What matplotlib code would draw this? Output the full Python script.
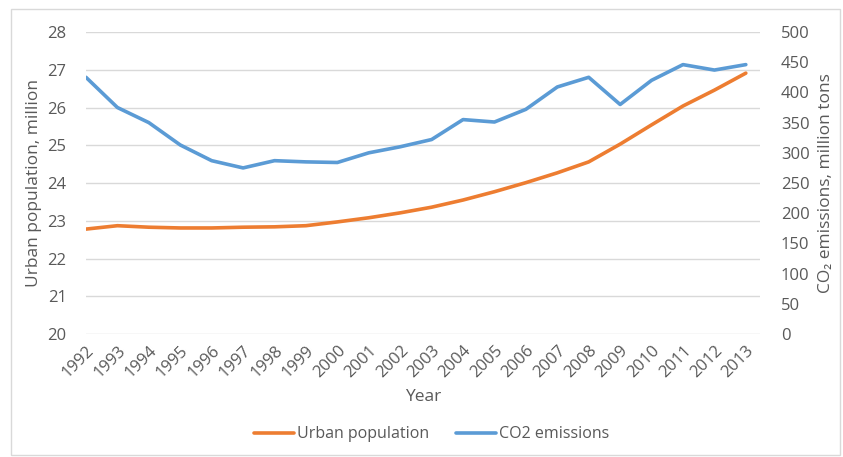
import matplotlib.pyplot as plt
from matplotlib.patches import Rectangle

years = list(range(1992, 2014))
urban_pop = [22.78, 22.87, 22.83, 22.81, 22.81, 22.83, 22.84, 22.87, 22.97, 23.08, 23.21,
             23.36, 23.55, 23.77, 24.01, 24.27, 24.56, 25.03, 25.54, 26.04, 26.46, 26.91]
co2 = [425, 375, 350, 313, 287, 275, 287, 285, 284, 300, 310,
       322, 355, 351, 372, 409, 425, 380, 420, 446, 437, 446]

orange = '#ED7D31'
blue = '#5B9BD5'
txt = '#595959'
grid = '#D9D9D9'

plt.rcParams['font.family'] = ['Open Sans', 'DejaVu Sans']
plt.rcParams['font.size'] = 12

fig = plt.figure(figsize=(8.43, 4.57), dpi=100)
ax = fig.add_axes([0.102, 0.269, 0.7995, 0.661])
ax2 = ax.twinx()

l1, = ax.plot(years, urban_pop, color=orange, lw=2.6, solid_capstyle='round', label='Urban population')
l2, = ax2.plot(years, co2, color=blue, lw=2.6, solid_capstyle='round', label='CO2 emissions')

ax.set_xlim(1992, 2013.45)
ax.set_ylim(20, 28)
ax2.set_ylim(0, 500)
ax.set_yticks(range(20, 29))
ax2.set_yticks(range(0, 501, 50))
ax.set_xticks(years)
ax.set_xticklabels([str(y) for y in years], rotation=45, ha='right', rotation_mode='anchor')

ax.grid(axis='y', color=grid, lw=1)
ax.set_axisbelow(True)
for a in (ax, ax2):
    for s in a.spines.values():
        s.set_visible(False)
    a.tick_params(length=0, colors=txt, labelsize=12)
ax.tick_params(axis='y', pad=14)
ax.tick_params(axis='x', pad=6)
ax2.tick_params(axis='y', pad=15)

ax.set_ylabel('Urban population, million', color=txt, fontsize=12.5, labelpad=4)
ax2.set_ylabel('CO₂ emissions, million tons', color=txt, fontsize=12.5, labelpad=6)
ax.set_xlabel('Year', color=txt, fontsize=12.5, labelpad=6)

fig.legend(handles=[l1, l2], loc='center', bbox_to_anchor=(0.512, 0.05), ncol=2,
           frameon=False, handlelength=2.5, columnspacing=1.7, handletextpad=0.2,
           labelcolor=txt, fontsize=11.5)

fig.patches.append(Rectangle((0.013, 0.005), 0.984, 0.975, transform=fig.transFigure,
                             fill=False, edgecolor=grid, lw=1))

fig.savefig('out.png', dpi=100)
